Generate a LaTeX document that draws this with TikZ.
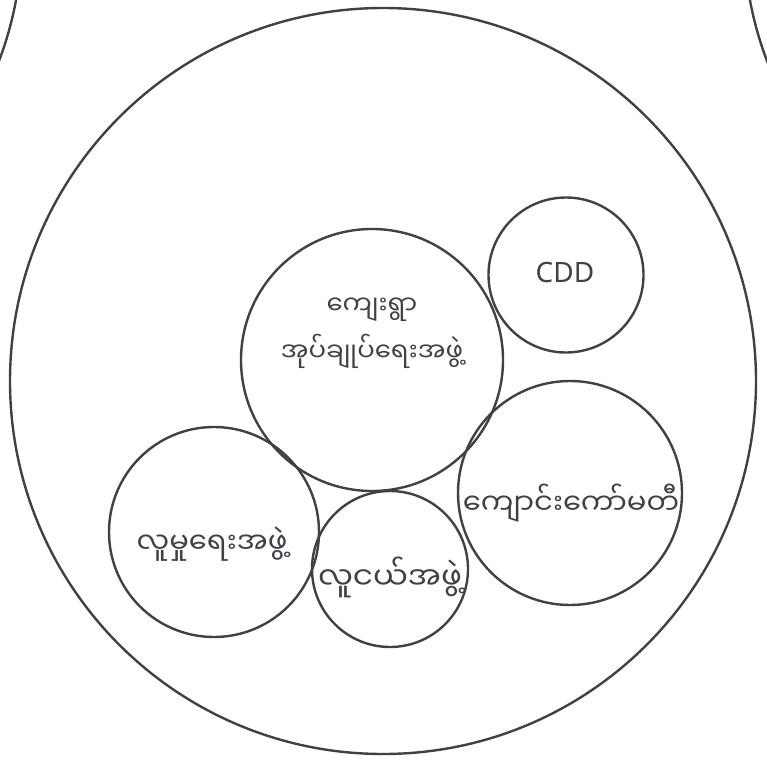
\documentclass[tikz,border=0pt]{standalone}
\usepackage{fontspec}
\setmainfont{Noto Sans}
\newfontfamily\mmfont[Script=Myanmar]{Noto Sans Myanmar UI}
\definecolor{inkgray}{RGB}{62,66,72}

\begin{document}
\begin{tikzpicture}[x=1pt,y=-1pt,
        ring/.style={draw=inkgray, line width=2.4pt, circle, inner sep=0pt},
        lbl/.style={text=inkgray, font=\mmfont\fontsize{29}{47}\selectfont, align=center}]
        \useasboundingbox (0,0) rectangle (767,759);

        % neighbouring circles, cut off at the edge
        \begin{scope}
            \clip (0,0) rectangle (767,759);
            \draw[draw=inkgray, line width=2.4pt] (-333,-65) circle (355);
            \draw[draw=inkgray, line width=2.4pt] (1099,-65) circle (355);
        \end{scope}

        \node[ring, minimum size=746pt] (village) at (383,381) {};

        \node[ring, minimum size=262pt] (admin) at (372,360) {};
        \node[ring, minimum size=155pt] (cdd) at (566,275) {};
        \node[ring, minimum size=224pt] (school) at (570,493) {};
        \node[ring, minimum size=210pt] (social) at (214,532) {};
        \node[ring, minimum size=156pt] (youth) at (390,569) {};

        \node[lbl, font=\mmfont\fontsize{26}{47}\selectfont] (admintxt) at (372,333) {ကျေးရွာ\\အုပ်ချုပ်ရေးအဖွဲ့};
        \node[lbl, font=\fontsize{28}{32}\selectfont] (cddtxt) at (565,273) {CDD};
        \node[lbl] (schooltxt) at (571,503) {ကျောင်းကော်မတီ};
        \node[lbl] (socialtxt) at (212,544) {လူမှုရေးအဖွဲ့};
        \node[lbl, font=\mmfont\fontsize{31}{47}\selectfont] (youthtxt) at (390,577) {လူငယ်အဖွဲ့};
    \end{tikzpicture}
\end{document}
